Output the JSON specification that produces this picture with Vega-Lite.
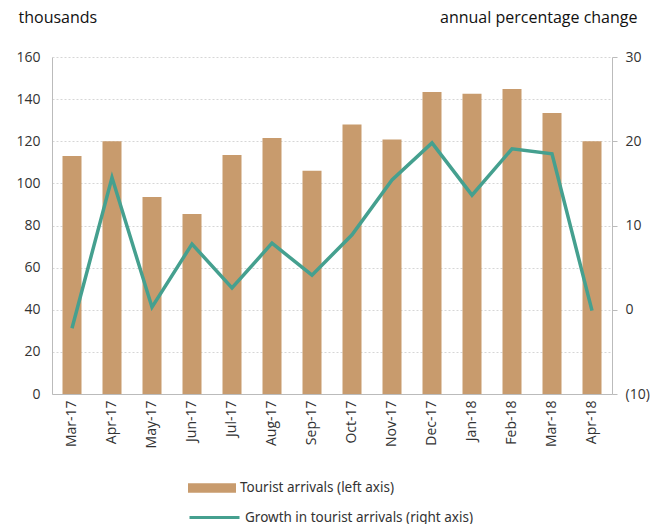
{
  "$schema": "https://vega.github.io/schema/vega-lite/v6.json",
  "autosize": {"type": "none"},
  "width": 560,
  "height": 337,
  "padding": {"left": 52, "top": 57, "right": 55, "bottom": 130},
  "background": "white",
  "config": {
    "view": {"stroke": null},
    "axis": {"labelFont": "Open Sans", "labelFontSize": 14, "labelColor": "#333", "titleFont": "Open Sans", "titleFontSize": 16, "titleFontWeight": "normal", "titleColor": "#111"},
    "legend": {"labelFont": "Noto Sans", "labelFontSize": 13.5, "labelColor": "#333", "labelLimit": 400}
  },
  "data": {
    "values": [
      {"month": "Mar-17", "arrivals": 113, "growth": -2.2},
      {"month": "Apr-17", "arrivals": 120, "growth": 15.7},
      {"month": "May-17", "arrivals": 93.5, "growth": 0.3},
      {"month": "Jun-17", "arrivals": 85.5, "growth": 7.8},
      {"month": "Jul-17", "arrivals": 113.5, "growth": 2.6},
      {"month": "Aug-17", "arrivals": 121.5, "growth": 7.9},
      {"month": "Sep-17", "arrivals": 106, "growth": 4.1},
      {"month": "Oct-17", "arrivals": 128, "growth": 8.9},
      {"month": "Nov-17", "arrivals": 120.8, "growth": 15.4},
      {"month": "Dec-17", "arrivals": 143.4, "growth": 19.8},
      {"month": "Jan-18", "arrivals": 142.5, "growth": 13.6},
      {"month": "Feb-18", "arrivals": 144.8, "growth": 19.1},
      {"month": "Mar-18", "arrivals": 133.4, "growth": 18.5},
      {"month": "Apr-18", "arrivals": 120, "growth": -0.1}
    ]
  },
  "encoding": {
    "x": {
      "field": "month", "type": "nominal", "sort": null, "title": null,
      "scale": {"paddingInner": 0.525, "paddingOuter": 0.2625},
      "axis": {"labelAngle": -90, "labelAlign": "right", "labelBaseline": "middle", "ticks": false, "labelPadding": 6, "domainColor": "#bbb", "grid": false}
    }
  },
  "layer": [
    {
      "mark": {"type": "bar"},
      "encoding": {
        "y": {
          "field": "arrivals", "type": "quantitative",
          "scale": {"domain": [0, 160], "nice": false},
          "axis": {
            "orient": "left", "values": [0, 20, 40, 60, 80, 100, 120, 140, 160],
            "title": "thousands", "titleAngle": 0, "titleAlign": "left", "titleBaseline": "alphabetic",
            "titleX": -34, "titleY": -35, "ticks": false, "labelPadding": 12,
            "domainColor": "#bbb", "grid": true, "gridColor": "#d6d6d6", "gridDash": [2, 2]
          }
        },
        "fill": {
          "datum": "Tourist arrivals (left axis)",
          "scale": {"range": ["#C89B6D"]},
          "legend": {
            "title": null, "orient": "none", "legendX": 136, "legendY": 407,
            "symbolType": "M-1,-0.2H1V0.2H-1Z", "symbolSize": 2304, "symbolStrokeWidth": 0, "labelOffset": 4
          }
        }
      }
    },
    {
      "mark": {"type": "line", "strokeWidth": 3.5},
      "encoding": {
        "y": {
          "field": "growth", "type": "quantitative",
          "scale": {"domain": [-10, 30], "nice": false},
          "axis": {
            "orient": "right", "values": [-10, 0, 10, 20, 30],
            "labelExpr": "datum.value < 0 ? '(' + abs(datum.value) + ')' : datum.label",
            "title": "annual percentage change", "titleAngle": 0, "titleAlign": "right", "titleBaseline": "alphabetic",
            "titleX": 25, "titleY": -35, "ticks": true, "tickSize": 5, "tickColor": "#bbb", "labelPadding": 8,
            "domainColor": "#bbb", "grid": false
          }
        },
        "stroke": {
          "datum": "Growth in tourist arrivals (right axis)",
          "scale": {"range": ["#45A08F"]},
          "legend": {
            "title": null, "orient": "none", "legendX": 136, "legendY": 434,
            "symbolType": "stroke", "symbolSize": 2500, "symbolStrokeWidth": 3, "labelOffset": 4
          }
        }
      }
    }
  ],
  "resolve": {"scale": {"y": "independent", "fill": "independent", "stroke": "independent"}}
}
